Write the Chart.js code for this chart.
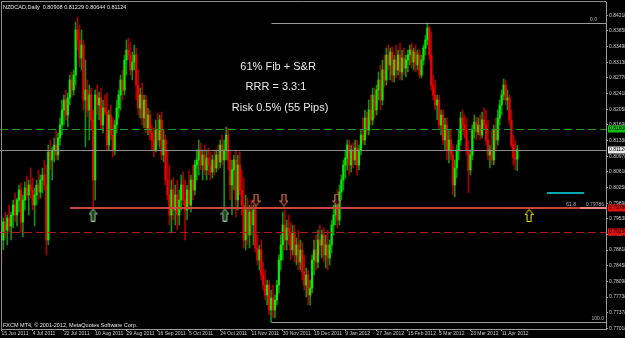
<!DOCTYPE html>
<html><head><meta charset="utf-8">
<script src="https://cdn.jsdelivr.net/npm/chart.js@4/dist/chart.umd.min.js"></script>
<style>html,body{margin:0;padding:0;background:#000;}canvas{display:block;}</style>
</head><body>
<canvas id="c" width="625" height="338"></canvas>
<script>
// ---- data ----
const dateLabels = ["15 Jun 2011","4 Jul 2011","22 Jul 2011","10 Aug 2011","29 Aug 2011","16 Sep 2011","5 Oct 2011","24 Oct 2011","11 Nov 2011","30 Nov 2011","19 Dec 2011","9 Jan 2012","27 Jan 2012","15 Feb 2012","5 Mar 2012","23 Mar 2012","11 Apr 2012"];
const dateTickIdx = [0,16,32,48,64,80,96,112,128,144,160,176,192,208,224,240,256];
const priceTicks = [0.84218,0.83858,0.83498,0.83138,0.82778,0.82418,0.82058,0.81698,0.81338,0.80978,0.80618,0.80258,0.79898,0.79538,0.79178,0.78818,0.78458,0.78098,0.77738,0.77378,0.77018];

const opens = [
0.79395,0.7905,0.79464,0.7928,0.79556,0.79372,0.79625,0.79855,0.79625,0.7997,
0.802,0.79464,0.7997,0.80246,0.80085,0.80315,0.802,0.79855,0.80085,0.80315,
0.80154,0.8043,0.80545,0.80315,0.7905,0.81074,0.8089,0.8112,0.81235,0.81005,
0.81396,0.81695,0.8204,0.8227,0.81925,0.82316,0.8273,0.825,0.82845,0.8388,
0.8365,0.83236,0.83535,0.8227,0.825,0.8204,0.82385,0.8181,0.8043,0.82385,
0.82155,0.82316,0.81695,0.82086,0.81994,0.81235,0.81925,0.81465,0.8112,0.81695,
0.82086,0.82385,0.8273,0.825,0.8319,0.8342,0.83305,0.8296,0.83144,0.83305,
0.82615,0.82086,0.82385,0.81856,0.8227,0.81626,0.81925,0.81511,0.8135,0.8112,
0.8158,0.8135,0.8181,0.81005,0.8135,0.8043,0.80085,0.79625,0.802,0.7974,
0.80085,0.79625,0.7997,0.80315,0.7997,0.7974,0.802,0.79855,0.8043,0.802,
0.80775,0.8089,0.8112,0.80775,0.81005,0.8066,0.80936,0.80775,0.80614,0.8089,
0.80706,0.81005,0.80844,0.81235,0.8089,0.8112,0.81465,0.8089,0.80315,0.8066,
0.8089,0.7997,0.80775,0.802,0.79855,0.7905,0.7974,0.79165,0.79694,0.79395,
0.7974,0.78866,0.7859,0.7882,0.78245,0.78015,0.77785,0.78015,0.7744,0.77716,
0.7744,0.7767,0.78015,0.7859,0.78935,0.79395,0.7905,0.79326,0.79165,0.7882,
0.79234,0.78705,0.78935,0.78544,0.7882,0.78314,0.78015,0.78245,0.77785,0.77946,
0.7859,0.7882,0.78544,0.7905,0.78935,0.79165,0.78705,0.78935,0.78636,0.78935,
0.79395,0.79625,0.79855,0.7951,0.80154,0.8043,0.80775,0.80936,0.81235,0.80775,
0.8112,0.8089,0.81166,0.80775,0.8112,0.81465,0.8135,0.81856,0.8158,0.8204,
0.8181,0.82385,0.8204,0.825,0.8273,0.8227,0.8296,0.8273,0.83305,0.83075,
0.83374,0.82845,0.8319,0.8296,0.83305,0.82914,0.83236,0.83006,0.8319,0.83305,
0.8342,0.83144,0.83374,0.83075,0.83305,0.82845,0.8319,0.83466,0.8365,0.83926,
0.83305,0.82615,0.82385,0.82155,0.8227,0.81695,0.81925,0.8135,0.81695,0.8112,
0.8135,0.81005,0.80315,0.80706,0.8112,0.8135,0.81856,0.81695,0.8158,0.8112,
0.8066,0.81005,0.8158,0.81764,0.81534,0.81695,0.81465,0.8181,0.81695,0.8135,
0.81005,0.8112,0.8089,0.8158,0.8135,0.81856,0.82155,0.82385,0.82615,0.8227,
0.82316,0.8181,0.81235,0.80936,0.80908];
const highs = [
0.79625,0.79556,0.79694,0.79625,0.79855,0.79694,0.7997,0.80131,0.80016,0.80315,
0.80361,0.80085,0.80384,0.80522,0.8043,0.80706,0.80476,0.80246,0.8043,0.8066,
0.80545,0.80706,0.8089,0.80775,0.81235,0.8135,0.81189,0.81396,0.8158,0.81511,
0.81856,0.8227,0.82385,0.825,0.82431,0.82845,0.82914,0.8296,0.84064,0.84179,
0.83995,0.8388,0.8365,0.8319,0.8273,0.82615,0.82546,0.8204,0.825,0.82615,
0.82454,0.82546,0.8227,0.82385,0.82431,0.8204,0.82155,0.81856,0.8181,0.8227,
0.825,0.82845,0.8296,0.83305,0.8365,0.83696,0.83604,0.83374,0.83535,0.83466,
0.8296,0.82546,0.82661,0.82385,0.82385,0.82086,0.8204,0.81695,0.81626,0.8181,
0.81971,0.81925,0.81994,0.8158,0.81465,0.8112,0.80775,0.8043,0.80476,0.80315,
0.8043,0.802,0.80545,0.80614,0.8043,0.80315,0.8066,0.80545,0.80775,0.8089,
0.8112,0.8135,0.81281,0.8112,0.81235,0.8112,0.81166,0.81074,0.81005,0.8112,
0.8112,0.81235,0.8135,0.81465,0.8135,0.81649,0.81626,0.8112,0.8089,0.81005,
0.8112,0.81005,0.81074,0.8066,0.80476,0.80085,0.80016,0.79855,0.7997,0.79855,
0.7997,0.79165,0.78935,0.7905,0.78544,0.7836,0.7813,0.7813,0.779,0.78015,
0.77785,0.7813,0.78705,0.79165,0.79694,0.7974,0.7951,0.79625,0.79464,0.79395,
0.79395,0.79096,0.7928,0.7905,0.79004,0.78705,0.78406,0.7836,0.7813,0.78705,
0.7905,0.79165,0.7928,0.79395,0.7928,0.79326,0.79165,0.7928,0.7905,0.7951,
0.79855,0.80085,0.802,0.80315,0.80545,0.8089,0.8112,0.8135,0.8135,0.81235,
0.81281,0.8135,0.8135,0.81235,0.8158,0.81856,0.8204,0.81994,0.8227,0.82385,
0.82546,0.82546,0.82615,0.82914,0.83075,0.8319,0.83305,0.83466,0.83535,0.83466,
0.83489,0.83305,0.83535,0.8342,0.83581,0.8342,0.83466,0.83305,0.8342,0.83535,
0.83581,0.83466,0.83535,0.8342,0.8342,0.83305,0.83535,0.83765,0.84041,0.83972,
0.83834,0.82845,0.8273,0.82385,0.82385,0.8204,0.8204,0.81856,0.81856,0.8158,
0.8158,0.81235,0.8089,0.81235,0.8158,0.81994,0.8204,0.81925,0.81856,0.8135,
0.8112,0.81695,0.81925,0.81879,0.81856,0.81925,0.81994,0.82086,0.8204,0.8181,
0.81235,0.8158,0.81695,0.81856,0.8204,0.8227,0.825,0.82753,0.8273,0.825,
0.82385,0.8204,0.81465,0.8135,0.81229];
const lows = [
0.78475,0.7882,0.79096,0.78935,0.79234,0.7905,0.79326,0.79464,0.79372,0.79694,
0.79234,0.79119,0.7974,0.7997,0.79625,0.80016,0.7974,0.79372,0.79855,0.7997,
0.80016,0.80131,0.802,0.78705,0.78935,0.8066,0.8043,0.80844,0.8089,0.8089,
0.81235,0.81465,0.81695,0.8181,0.81649,0.82155,0.82339,0.82385,0.82615,0.8342,
0.83029,0.8296,0.8204,0.81189,0.81879,0.8135,0.8158,0.7974,0.7997,0.81925,
0.8181,0.8158,0.81511,0.81925,0.8112,0.8112,0.8135,0.80959,0.81005,0.81511,
0.81856,0.8204,0.8227,0.82385,0.82845,0.8319,0.82845,0.8273,0.8296,0.8227,
0.81925,0.81856,0.81695,0.81626,0.81511,0.81465,0.8135,0.8112,0.80959,0.81074,
0.81235,0.81166,0.8089,0.80844,0.80315,0.7997,0.79395,0.79211,0.7951,0.79395,
0.7928,0.79395,0.7974,0.79855,0.7905,0.7951,0.7974,0.79694,0.7997,0.80085,
0.8043,0.80545,0.8066,0.8043,0.80545,0.8043,0.80545,0.8043,0.80476,0.80545,
0.80614,0.8066,0.80706,0.80775,0.7974,0.8089,0.8066,0.7997,0.79625,0.802,
0.79579,0.7974,0.80085,0.79625,0.78866,0.7882,0.78935,0.78866,0.79165,0.78935,
0.78774,0.78475,0.7836,0.7813,0.779,0.7767,0.77555,0.77325,0.7716,0.77256,
0.77256,0.77555,0.77831,0.7836,0.7859,0.7882,0.7882,0.78935,0.7859,0.78705,
0.78544,0.78475,0.7836,0.7836,0.7813,0.779,0.77739,0.77555,0.77555,0.77831,
0.78245,0.7836,0.78406,0.78705,0.78636,0.78544,0.78406,0.7836,0.78475,0.78751,
0.79165,0.79395,0.79326,0.79395,0.7997,0.802,0.80476,0.8066,0.80545,0.80614,
0.80706,0.80775,0.80545,0.8066,0.81005,0.81235,0.81235,0.81465,0.81465,0.81695,
0.81695,0.81856,0.81925,0.8227,0.8204,0.82155,0.82569,0.82615,0.8296,0.8273,
0.82684,0.82684,0.82776,0.82845,0.8273,0.8273,0.82845,0.82799,0.82914,0.83075,
0.83006,0.8296,0.82914,0.8296,0.82776,0.82776,0.83075,0.83305,0.83535,0.8319,
0.825,0.8227,0.8204,0.8181,0.8158,0.81465,0.81235,0.8112,0.8089,0.80821,
0.8089,0.80085,0.80039,0.80476,0.8089,0.81235,0.81465,0.81396,0.81005,0.80131,
0.80545,0.8089,0.81396,0.8135,0.81465,0.8135,0.81396,0.8158,0.81235,0.8089,
0.80706,0.80775,0.80775,0.8112,0.81235,0.81695,0.81925,0.8227,0.82155,0.8204,
0.81695,0.81166,0.80775,0.8066,0.80644];
const closes = [
0.7905,0.79464,0.7928,0.79556,0.79372,0.79625,0.79855,0.79625,0.7997,0.802,
0.79464,0.7997,0.80246,0.80085,0.80315,0.802,0.79855,0.80085,0.80315,0.80154,
0.8043,0.80545,0.80315,0.7905,0.81074,0.8089,0.8112,0.81235,0.81005,0.81396,
0.81695,0.8204,0.8227,0.81925,0.82316,0.8273,0.825,0.82845,0.8388,0.8365,
0.83236,0.83535,0.8227,0.825,0.8204,0.82385,0.8181,0.8043,0.82385,0.82155,
0.82316,0.81695,0.82086,0.81994,0.81235,0.81925,0.81465,0.8112,0.81695,0.82086,
0.82385,0.8273,0.825,0.8319,0.8342,0.83305,0.8296,0.83144,0.83305,0.82615,
0.82086,0.82385,0.81856,0.8227,0.81626,0.81925,0.81511,0.8135,0.8112,0.8158,
0.8135,0.8181,0.81005,0.8135,0.8043,0.80085,0.79625,0.802,0.7974,0.80085,
0.79625,0.7997,0.80315,0.7997,0.7974,0.802,0.79855,0.8043,0.802,0.80775,
0.8089,0.8112,0.80775,0.81005,0.8066,0.80936,0.80775,0.80614,0.8089,0.80706,
0.81005,0.80844,0.81235,0.8089,0.8112,0.81465,0.8089,0.80315,0.8066,0.8089,
0.7997,0.80775,0.802,0.79855,0.7905,0.7974,0.79165,0.79694,0.79395,0.7974,
0.78866,0.7859,0.7882,0.78245,0.78015,0.77785,0.78015,0.7744,0.77716,0.7744,
0.7767,0.78015,0.7859,0.78935,0.79395,0.7905,0.79326,0.79165,0.7882,0.79234,
0.78705,0.78935,0.78544,0.7882,0.78314,0.78015,0.78245,0.77785,0.77946,0.7859,
0.7882,0.78544,0.7905,0.78935,0.79165,0.78705,0.78935,0.78636,0.78935,0.79395,
0.79625,0.79855,0.7951,0.80154,0.8043,0.80775,0.80936,0.81235,0.80775,0.8112,
0.8089,0.81166,0.80775,0.8112,0.81465,0.8135,0.81856,0.8158,0.8204,0.8181,
0.82385,0.8204,0.825,0.8273,0.8227,0.8296,0.8273,0.83305,0.83075,0.83374,
0.82845,0.8319,0.8296,0.83305,0.82914,0.83236,0.83006,0.8319,0.83305,0.8342,
0.83144,0.83374,0.83075,0.83305,0.82845,0.8319,0.83466,0.8365,0.83926,0.83305,
0.82615,0.82385,0.82155,0.8227,0.81695,0.81925,0.8135,0.81695,0.8112,0.8135,
0.81005,0.80315,0.80706,0.8112,0.8135,0.81856,0.81695,0.8158,0.8112,0.8066,
0.81005,0.8158,0.81764,0.81534,0.81695,0.81465,0.8181,0.81695,0.8135,0.81005,
0.8112,0.8089,0.8158,0.8135,0.81856,0.82155,0.82385,0.82615,0.8227,0.82316,
0.8181,0.81235,0.80936,0.80908,0.81124];

// horizontal levels (prices) and their start/end bar indexes
const targetLevel = 0.81600;
const bidPrice = 0.81124;
const srLevel = 0.79786, srFrom = 35.1, srTo = 296;
const stopLevel = 0.79236;
const fibHigh = 0.8404, fibLow = 0.7716, fib618 = 0.79786, fibFrom = 138.2;
const cyanLevel = 0.8013, cyanFrom = 279.2, cyanTo = 298.2;
// arrow markers (bar index, price)
const upArrows = [{x:46.9,y:0.79625},{x:114.4,y:0.79625}];
const downArrows = [{x:130.3,y:0.7997},{x:144.6,y:0.7997},{x:171.7,y:0.7997}];
const entryArrows = [{x:270.0,y:0.79614}];
// text notes anchored at (bar index, price)
const notes = [
  {text:"61% Fib + S&R", x:141.6, y:0.83029},
  {text:"RRR = 3.3:1", x:140.5, y:0.82569},
  {text:"Risk 0.5% (55 Pips)", x:142.6, y:0.82086}
];
const header = "NZDCAD,Daily  0.80908 0.81229 0.80644 0.81124";
const footer = "FXCM MT4, \u00a9 2001-2012, MetaQuotes Software Corp.";

// ---- build ----
const idx = closes.map((_, i) => i);
const wickData = idx.map(i => ({x:i, y:[lows[i], highs[i]]}));
const bodyData = idx.map(i => ({x:i, y:[opens[i], closes[i]]}));
const isUp = i => closes[i] >= opens[i];

function makeArrow(up, stroke, fill) {
  const c = document.createElement('canvas'); c.width = 9; c.height = 13;
  const g = c.getContext('2d');
  if (!up) { g.translate(0, 13); g.scale(1, -1); }
  g.beginPath();
  g.moveTo(4.5,0.5); g.lineTo(8.5,5.5); g.lineTo(6.5,5.5); g.lineTo(6.5,12.5);
  g.lineTo(2.5,12.5); g.lineTo(2.5,5.5); g.lineTo(0.5,5.5); g.closePath();
  g.fillStyle = fill; g.fill();
  g.strokeStyle = stroke; g.lineWidth = 1; g.stroke();
  return c;
}
const arrowImgs = [makeArrow(true,'#8fb48f','#1d4a1d'), makeArrow(false,'#e9806a','#2a0a05'), makeArrow(true,'#f0f000','#000000')];
const arrowData = [
  ...upArrows.map(p => ({x:p.x, y:p.y, k:0})),
  ...downArrows.map(p => ({x:p.x, y:p.y, k:1})),
  ...entryArrows.map(p => ({x:p.x, y:p.y, k:2}))
];

const FONT = "'Liberation Sans', Arial, sans-serif";
const SMALL = "'Liberation Sans Narrow', 'Liberation Sans', Arial, sans-serif";

function hline(ctx, chart, price, fromIdx, toIdx, color, width, dash) {
  const xs = chart.scales.x, ys = chart.scales.y, a = chart.chartArea;
  let y = ys.getPixelForValue(price);
  y = width % 2 ? Math.round(y) + 0.5 : Math.round(y);
  const x1 = fromIdx == null ? 0 : xs.getPixelForValue(fromIdx);
  const x2 = toIdx == null ? a.right : xs.getPixelForValue(toIdx);
  ctx.save();
  ctx.strokeStyle = color; ctx.lineWidth = width; ctx.setLineDash(dash || []);
  ctx.beginPath(); ctx.moveTo(x1, y); ctx.lineTo(x2, y); ctx.stroke();
  ctx.restore();
}

const overlay = {
  id: 'overlay',
  beforeDatasetDraw(chart, args) {
    if (args.index !== 0) return;
    const ctx = chart.ctx, a = chart.chartArea, ys = chart.scales.y, xs = chart.scales.x;
    ctx.save();
    ctx.beginPath(); ctx.rect(0, a.top, a.right, a.bottom - a.top); ctx.clip();
    hline(ctx, chart, targetLevel, null, null, '#1f9a1f', 1, [8,4]);
    hline(ctx, chart, bidPrice, null, null, '#8c8c8c', 1);
    hline(ctx, chart, fibHigh, fibFrom, null, '#9a9a9a', 1);
    hline(ctx, chart, fibLow, fibFrom, null, '#9a9a9a', 1);
    hline(ctx, chart, fib618, srTo, null, '#e08a80', 2);
    hline(ctx, chart, srLevel, srFrom, srTo, '#c8463a', 2);
    hline(ctx, chart, stopLevel, null, null, '#b01c1c', 1, [8,4]);
    hline(ctx, chart, cyanLevel, cyanFrom, cyanTo, '#00aab0', 2);
    // fib labels
    ctx.fillStyle = '#b0b0b0'; ctx.font = '5px ' + SMALL; ctx.textBaseline = 'bottom'; ctx.textAlign = 'right';
    ctx.fillText('0.0', a.right - 9, ys.getPixelForValue(fibHigh) - 1);
    ctx.fillText('100.0', a.right - 2, ys.getPixelForValue(fibLow) - 1);
    ctx.fillText('61.8', xs.getPixelForValue(294), ys.getPixelForValue(fib618) - 1);
    ctx.fillText(fib618.toFixed(5), a.right - 2, ys.getPixelForValue(fib618) - 1);
    ctx.restore();
  },
  afterDraw(chart) {
    const ctx = chart.ctx, a = chart.chartArea, ys = chart.scales.y, xs = chart.scales.x;
    ctx.save();
    // frame
    ctx.strokeStyle = '#8c8c8c'; ctx.lineWidth = 1;
    ctx.beginPath(); ctx.moveTo(a.left + 0.5, a.bottom); ctx.lineTo(a.left + 0.5, a.top - 0.5); ctx.lineTo(a.right, a.top - 0.5); ctx.stroke();
    // header / footer
    ctx.fillStyle = '#e6e6e6'; ctx.font = '5.5px ' + FONT; ctx.textBaseline = 'middle'; ctx.textAlign = 'left';
    ctx.fillText(header, 3, 7);
    ctx.fillText(footer, 3, 325);
    // notes
    ctx.font = '11px ' + FONT; ctx.textAlign = 'center'; ctx.fillStyle = '#e8e8e8';
    notes.forEach(n => ctx.fillText(n.text, xs.getPixelForValue(n.x), ys.getPixelForValue(n.y)));
    // price boxes on the axis
    const boxes = [
      {p: targetLevel, bg: '#10c010', fg: '#000000'},
      {p: bidPrice, bg: '#e8e8e8', fg: '#000000'},
      {p: srLevel, bg: '#e01010', fg: '#000000'},
      {p: stopLevel, bg: '#e01010', fg: '#000000'}
    ];
    ctx.font = '5px ' + SMALL; ctx.textAlign = 'left';
    boxes.forEach(b => {
      const y = Math.round(ys.getPixelForValue(b.p));
      ctx.fillStyle = b.bg; ctx.fillRect(a.right + 2, y - 3.5, 625 - a.right - 2, 7);
      ctx.fillStyle = b.fg; ctx.fillText(b.p.toFixed(5), a.right + 3, y);
    });
    ctx.restore();
  }
};

new Chart(document.getElementById('c'), {
  type: 'bar',
  data: {
    datasets: [
      { type: 'scatter', data: arrowData, pointStyle: ctx => arrowImgs[ctx.raw ? ctx.raw.k : 0], pointRadius: 6, clip: false },
      { data: bodyData, grouped: false, barThickness: 1.5, minBarLength: 1, borderWidth: 0,
        backgroundColor: ctx => isUp(ctx.dataIndex) ? '#00f000' : '#f00000' },
      { data: wickData, grouped: false, barThickness: 1, borderWidth: 0,
        backgroundColor: ctx => isUp(ctx.dataIndex) ? '#129012' : '#a80000' }
    ]
  },
  options: {
    responsive: false, animation: false, devicePixelRatio: 1,
    layout: { autoPadding: false, padding: { left: 1, top: 2, right: 0, bottom: 0 } },
    plugins: { legend: { display: false }, tooltip: { enabled: false } },
    scales: {
      x: {
        type: 'linear', min: -0.2, max: 309.4, offset: false,
        afterBuildTicks: s => { s.ticks = dateTickIdx.map(v => ({ value: v })); },
        ticks: { callback: v => { const k = dateTickIdx.indexOf(v); return k >= 0 ? dateLabels[k] : ''; },
                 color: '#c8c8c8', font: { size: 5, family: SMALL }, maxRotation: 0, minRotation: 0,
                 autoSkip: false, align: 'start', padding: 0 },
        grid: { drawOnChartArea: false, offset: false, color: '#9a9a9a', tickLength: 2 },
        border: { color: '#9a9a9a' },
        afterFit: s => { s.height = 9; s.paddingLeft = 0; s.paddingRight = 0; s.paddingTop = 0; s.paddingBottom = 0; }
      },
      y: {
        type: 'linear', position: 'right', min: 0.77003, max: 0.84524, beginAtZero: false,
        afterBuildTicks: s => { s.ticks = priceTicks.map(v => ({ value: v })); },
        ticks: { callback: v => v.toFixed(5), color: '#c8c8c8', font: { size: 5, family: SMALL }, padding: 1 },
        grid: { drawOnChartArea: false, color: '#9a9a9a', tickLength: 2 },
        border: { color: '#9a9a9a' },
        afterFit: s => { s.width = 19; s.paddingTop = 0; s.paddingBottom = 0; s.paddingLeft = 0; s.paddingRight = 0; }
      }
    }
  },
  plugins: [overlay]
});
</script>
</body></html>
